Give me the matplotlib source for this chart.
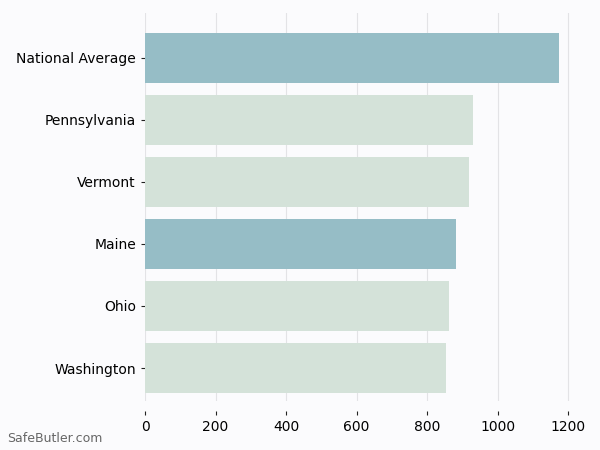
import matplotlib
matplotlib.use("Agg")
import matplotlib.pyplot as plt

# dados
estados = ["National Average", "Pennsylvania", "Vermont", "Maine", "Ohio", "Washington"]
valores = [1173, 929, 918, 881, 861, 853]
destaque = [True, False, False, True, False, False]

cor_escura = "#96bdc6"
cor_clara = "#d4e2d9"
fundo = "#fbfbfd"

fig = plt.figure(figsize=(6, 4.5), dpi=100, facecolor=fundo)
ax = fig.add_axes([0.2417, 0.109, 0.738, 0.862], facecolor=fundo)

cores = [cor_escura if d else cor_clara for d in destaque]
ax.barh(range(len(estados)), valores, height=0.8, color=cores, zorder=2)

ax.set_yticks(range(len(estados)))
ax.set_yticklabels(estados, fontsize=10)
ax.set_ylim(5.53, -0.72)
ax.set_xlim(0, 1256)
ax.set_xticks([0, 200, 400, 600, 800, 1000, 1200])
ax.tick_params(axis="x", labelsize=10, length=3, color="#222222")
ax.tick_params(axis="y", length=3, color="#222222")

ax.grid(axis="x", color="#e3e3e6", linewidth=0.8, zorder=0)
for lado in ["top", "right", "left"]:
    ax.spines[lado].set_visible(False)
ax.spines["bottom"].set_position(("outward", 7))
ax.spines["bottom"].set_visible(False)

fig.text(0.012, 0.018, "SafeButler.com", fontsize=9, color="#666666")

plt.savefig("out.png", dpi=100, facecolor=fundo)
plt.close()
